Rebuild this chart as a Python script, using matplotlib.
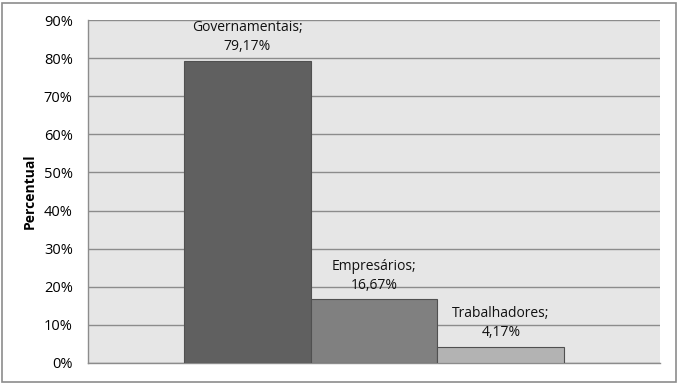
import matplotlib.pyplot as plt
import numpy as np

# Data
categories = ["Governamentais", "Empresários", "Trabalhadores"]
values = [79.17, 16.67, 4.17]
value_labels = ["79,17%", "16,67%", "4,17%"]
bar_colors = ["#606060", "#808080", "#b3b3b3"]
yticks = [0, 10, 20, 30, 40, 50, 60, 70, 80, 90]

plt.rcParams['font.family'] = ['Open Sans', 'DejaVu Sans']

fig = plt.figure(figsize=(6.79, 3.83), dpi=100)
ax = fig.add_axes([88 / 679, 20 / 383, 572 / 679, 343 / 383])

w = 0.222
xs = (np.arange(len(values)) - 1) * w
ax.set_facecolor("#e6e6e6")
ax.set_axisbelow(True)
ax.yaxis.grid(True, color="#8c8c8c", linewidth=1.0)
bars = ax.bar(xs, values, width=w, color=bar_colors, edgecolor="#505050", linewidth=0.8, zorder=3)

for x, v, cat, lab in zip(xs, values, categories, value_labels):
    ax.annotate(f"{cat};\n{lab}", xy=(x, v), xytext=(0, 5), textcoords="offset points",
                ha="center", va="bottom", fontsize=10, linespacing=1.35, color="#111111")

ax.set_xlim(-0.5, 0.5)
ax.set_ylim(0, 90)
ax.set_xticks([])
ax.set_yticks(yticks)
ax.set_yticklabels([f"{t}%" for t in yticks], fontsize=10.5)
ax.tick_params(axis="y", length=0, pad=11)
ax.set_ylabel("Percentual", fontsize=10, fontweight="bold")
ax.yaxis.set_label_coords(-51 / 572, 0.5)

for s in ["top", "right"]:
    ax.spines[s].set_visible(False)
for s in ["left", "bottom"]:
    ax.spines[s].set_color("#8c8c8c")
    ax.spines[s].set_linewidth(1.0)

# outer border
fig.patches.append(plt.Rectangle((2 / 679, 1.5 / 383), 674 / 679, 379 / 383, transform=fig.transFigure,
                                 fill=False, edgecolor="#8c8c8c", linewidth=1.2))

fig.savefig("out.png", dpi=100)
